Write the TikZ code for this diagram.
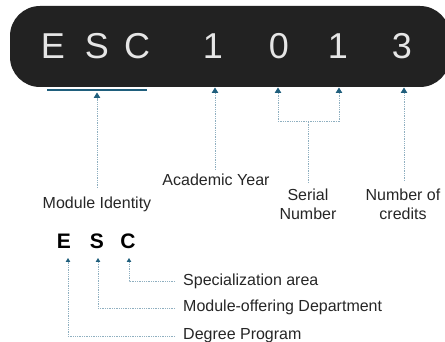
\documentclass[tikz,border=0pt]{standalone}
\usepackage{fontspec}
\setmainfont{Liberation Sans}
\usetikzlibrary{arrows.meta}
\definecolor{boxfill}{HTML}{222222}
\definecolor{codegray}{HTML}{E6E6E6}
\definecolor{arrowblue}{HTML}{1F5E7C}
\definecolor{dotblue}{HTML}{8FAFC0}
\definecolor{labeltext}{HTML}{262626}
\tikzset{
  codechar/.style={anchor=base, text=codegray, font=\fontsize{36}{40}\selectfont, inner sep=0pt},
  smallchar/.style={anchor=base, font=\fontsize{21}{24}\selectfont\bfseries, inner sep=0pt},
  lbl/.style={font=\fontsize{16}{20}\selectfont, text=labeltext, inner sep=0pt, align=center},
  lblleft/.style={font=\fontsize{16}{20}\selectfont, text=labeltext, inner sep=0pt, anchor=base west},
  pointer/.style={dotblue, line width=1pt, dash pattern=on 1.3pt off 1pt,
    arrows={-{Triangle[width=6.5pt,length=5.5pt,color=arrowblue]}}},
  smallpointer/.style={dotblue, line width=0.9pt, dash pattern=on 1.3pt off 1pt,
    arrows={-{Triangle[width=4.5pt,length=4pt,color=arrowblue]}}},
  dotline/.style={dotblue, line width=1pt, dash pattern=on 1.3pt off 1pt},
}
\begin{document}
\begin{tikzpicture}[x=1pt,y=-1pt]
\useasboundingbox (0,0) rectangle (445,342);
\clip (0,0) rectangle (445,342);
% code box
\fill[boxfill, rounded corners=30pt] (10,6) rectangle (450,87);
\node[codechar] (cE) at (53,59) {E};
\node[codechar] (cS) at (97,59) {S};
\node[codechar] (cC) at (137,59) {C};
\node[codechar] (c1) at (213,59) {1};
\node[codechar] (c0) at (279,59) {0};
\node[codechar] (c1b) at (338,59) {1};
\node[codechar] (c3) at (402,59) {3};
% module identity bar
\coordinate (barL) at (47,90.5);
\coordinate (barR) at (147,90.5);
\draw[arrowblue, line width=2pt] (barL) -- (barR);
% labels
\node[lbl, anchor=base] (modid) at (97,209) {Module Identity};
\node[lbl, anchor=base] (acyear) at (216,186) {Academic Year};
\node[lbl, anchor=base] (serial) at (308,200.5) {Serial};
\node[lbl, anchor=base] (serialb) at (308,220) {Number};
\node[lbl, anchor=base] (numof) at (403,200.5) {Number of};
\node[lbl, anchor=base] (credits) at (403,220) {credits};
% pointers
\coordinate (tModid) at (97,92.5);
\coordinate (tYear) at (215,87.5);
\coordinate (tSer1) at (278,87.5);
\coordinate (tSer2) at (339,87.5);
\coordinate (tCred) at (404,87.5);
\coordinate (sModid) at (97,188);
\coordinate (sYear) at (215,170);
\coordinate (sCred) at (404,181);
\coordinate (serJoinL) at (278,122);
\coordinate (serJoinR) at (339,122);
\coordinate (serMid) at (308,122);
\coordinate (serBot) at (308,183);
\draw[pointer] (sModid) -- (tModid);
\draw[pointer] (sYear) -- (tYear);
\draw[pointer] (sCred) -- (tCred);
\draw[pointer] (serJoinL) -- (tSer1);
\draw[pointer] (serJoinR) -- (tSer2);
\draw[dotline] (serJoinL) -- (serJoinR);
\draw[dotline] (serMid) -- (serBot);
% ESC breakdown
\node[smallchar] (bE) at (64,248) {E};
\node[smallchar] (bS) at (97,248) {S};
\node[smallchar] (bC) at (128,248) {C};
\node[lblleft] (spec) at (183,285) {Specialization area};
\node[lblleft] (dept) at (183,312) {Module-offering Department};
\node[lblleft] (deg) at (183,339.5) {Degree Program};
\coordinate (tbE) at (68,258);
\coordinate (tbS) at (98,258);
\coordinate (tbC) at (129,258);
\draw[smallpointer] (175,281) -- (129,281) -- (tbC);
\draw[smallpointer] (175,308) -- (98,308) -- (tbS);
\draw[smallpointer] (175,336) -- (68,336) -- (tbE);
\end{tikzpicture}
\end{document}
